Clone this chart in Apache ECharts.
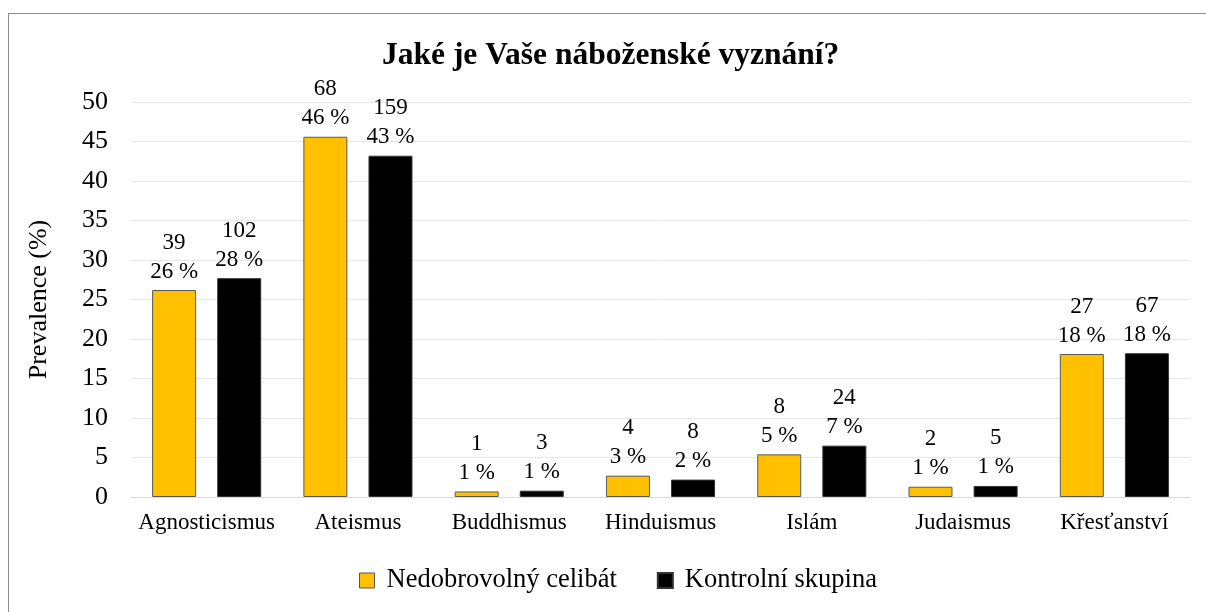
<!DOCTYPE html>
<html><head><meta charset="utf-8">
<script src="https://cdn.jsdelivr.net/npm/echarts@6/dist/echarts.min.js"></script>
<style>
html,body{margin:0;padding:0;background:#fff;}
#frame{position:absolute;left:8px;top:13px;width:1200px;height:620px;border:1px solid #8c8c8c;box-sizing:border-box;}
#c{position:absolute;left:0;top:0;width:1206px;height:612px;}
</style></head>
<body>
<div id="frame"></div>
<div id="c"></div>
<script>
const categories = ['Agnosticismus','Ateismus','Buddhismus','Hinduismus','Islám','Judaismus','Křesťanství'];
const seriesNames = ['Nedobrovolný celibát','Kontrolní skupina'];
const celibatPct = [26.2, 45.6, 0.7, 2.7, 5.4, 1.3, 18.1];
const celibatCount = [39, 68, 1, 4, 8, 2, 27];
const kontrolPct = [27.7, 43.2, 0.8, 2.2, 6.5, 1.4, 18.2];
const kontrolCount = [102, 159, 3, 8, 24, 5, 67];
const yTicks = [0,5,10,15,20,25,30,35,40,45,50];

const font = '"Liberation Serif","Times New Roman",serif';
const chart = echarts.init(document.getElementById('c'));
function mk(name, pct, cnt, color, border){
  return {
    name, type:'bar', barWidth:44, barGap:'48%',
    data: pct.map((v,i)=>({value:v, cnt:cnt[i]})),
    itemStyle:{color, borderColor:border, borderWidth:1},
    label:{show:true, position:'top', distance:4, fontFamily:font, fontSize:23, color:'#000', lineHeight:29,
      formatter:p=>p.data.cnt+'\n'+Math.round(p.value)+' %'}
  };
}
chart.setOption({
  animation:false,
  title:{text:'Jaké je Vaše náboženské vyznání?', left:377, top:35, textStyle:{fontFamily:font, fontSize:31.5, fontWeight:'bold', color:'#000'}},
  grid:{left:131, right:16, top:102, bottom:115},
  legend:{top:562, left:354, itemWidth:15, itemHeight:15, itemGap:40, textStyle:{fontFamily:font, fontSize:26.5, color:'#000', padding:[0,0,0,7]},
    data:[{name:seriesNames[0], icon:'rect', itemStyle:{borderColor:'#555', borderWidth:1}},{name:seriesNames[1], icon:'rect'}]},
  xAxis:{type:'category', data:categories, axisTick:{show:false}, axisLine:{lineStyle:{color:'#d9d9d9'}},
    axisLabel:{interval:0, fontFamily:font, fontSize:23, color:'#000', margin:14}},
  yAxis:{type:'value', min:yTicks[0], max:yTicks[yTicks.length-1], interval:5,
    name:'Prevalence (%)', nameLocation:'middle', nameGap:79, nameTextStyle:{fontFamily:font, fontSize:26, color:'#000'},
    axisLabel:{fontFamily:font, fontSize:26, color:'#000', margin:23},
    splitLine:{lineStyle:{color:'#e6e6e6'}}},
  series:[mk(seriesNames[0], celibatPct, celibatCount, '#FFC000', '#5a5a5a'), mk(seriesNames[1], kontrolPct, kontrolCount, '#000000', '#333')]
});
</script>
</body></html>
